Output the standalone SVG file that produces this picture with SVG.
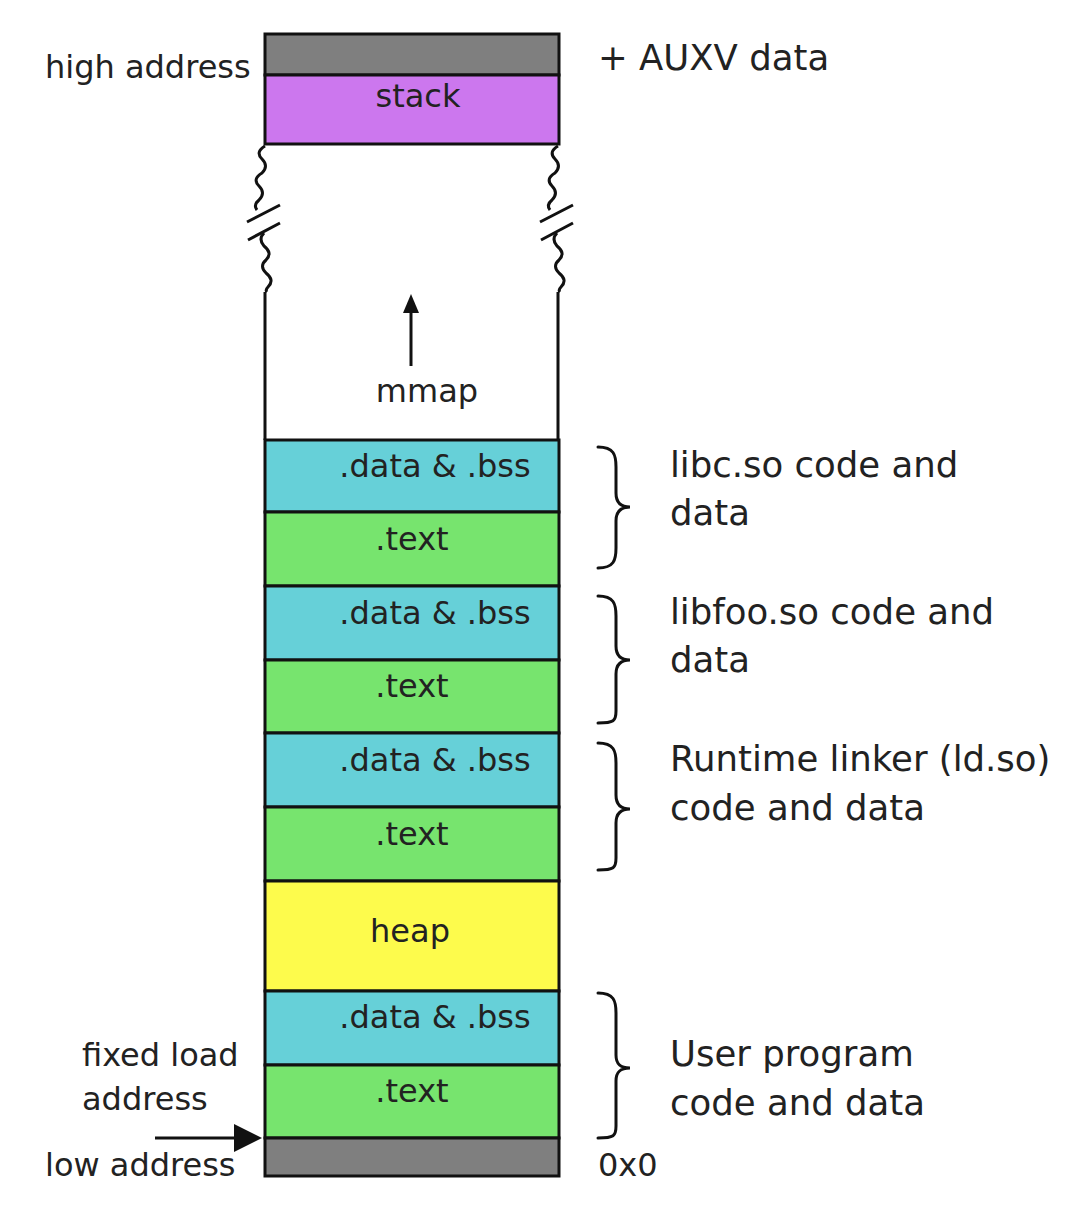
<svg xmlns="http://www.w3.org/2000/svg" width="1082" height="1218" viewBox="0 0 1082 1218">
<style>
.blk{stroke:#111;stroke-width:3}
.gray{fill:#7f7f7f}
.stack{fill:#cc77ee}
.cyan{fill:#66d0d8}
.green{fill:#77e46e}
.yellow{fill:#fdfb4c}
.t{font-family:"DejaVu Sans",Verdana,sans-serif;font-size:32px;fill:#222}
.r{font-family:"DejaVu Sans",Verdana,sans-serif;font-size:35.5px;fill:#222}
.c{text-anchor:middle}
.ln{fill:none;stroke:#111;stroke-width:3}
.brace{fill:none;stroke:#111;stroke-width:3;stroke-linecap:round}
</style>
<rect width="1082" height="1218" fill="#fff"/>
<g id="top-gray"><rect class="blk gray" x="265" y="34" width="294" height="41"/></g>
<g id="stack"><rect class="blk stack" x="265" y="75" width="294" height="69"/><text class="t c" x="418" y="107">stack</text></g>
<g id="gap">
<path class="ln" d="M265,146 q-10,6 -3,13 q7,7 0,14 q-10,6 -3,13 q7,7 0,14 q-6,5 -2,10"/>
<path class="ln" d="M247,222 L280,205 M248,240 L280,223"/>
<path class="ln" d="M264,233 q-6,6 0,13 q9,7 2,14 q-7,6 0,13 q9,7 2,14 q-3,3 -1,5"/>
<path class="ln" d="M558,146 q-10,6 -3,13 q7,7 0,14 q-10,6 -3,13 q7,7 0,14 q-6,5 -2,10"/>
<path class="ln" d="M540,222 L573,205 M541,240 L573,223"/>
<path class="ln" d="M557,233 q-6,6 0,13 q9,7 2,14 q-7,6 0,13 q9,7 2,14 q-3,3 -1,5"/>
<path class="ln" d="M265,292 L265,440 M558,292 L558,440"/>
</g>
<g id="mmap">
<line class="ln" x1="411" y1="366" x2="411" y2="308"/>
<polygon points="411,294 403,313 419,313" fill="#111"/>
<text class="t c" x="427" y="402">mmap</text>
</g>
<g id="libc-data"><rect class="blk cyan" x="265" y="440" width="294" height="72"/><text class="t c" x="435" y="477">.data &amp; .bss</text></g>
<g id="libc-text"><rect class="blk green" x="265" y="512" width="294" height="74"/><text class="t c" x="412" y="550">.text</text></g>
<g id="libfoo-data"><rect class="blk cyan" x="265" y="586" width="294" height="74"/><text class="t c" x="435" y="624">.data &amp; .bss</text></g>
<g id="libfoo-text"><rect class="blk green" x="265" y="660" width="294" height="73"/><text class="t c" x="412" y="697">.text</text></g>
<g id="ld-data"><rect class="blk cyan" x="265" y="733" width="294" height="74"/><text class="t c" x="435" y="771">.data &amp; .bss</text></g>
<g id="ld-text"><rect class="blk green" x="265" y="807" width="294" height="74"/><text class="t c" x="412" y="845">.text</text></g>
<g id="heap"><rect class="blk yellow" x="265" y="881" width="294" height="110"/><text class="t c" x="410" y="942">heap</text></g>
<g id="user-data"><rect class="blk cyan" x="265" y="991" width="294" height="74"/><text class="t c" x="435" y="1028">.data &amp; .bss</text></g>
<g id="user-text"><rect class="blk green" x="265" y="1065" width="294" height="73"/><text class="t c" x="412" y="1102">.text</text></g>
<g id="bottom-gray"><rect class="blk gray" x="265" y="1138" width="294" height="38"/></g>
<g id="braces">
<path class="brace" d="M598,447 C614,447 616,455 616,467 L616,493 C616,502 620,507 630,507 C620,507 616,512 616,521 L616,548 C616,560 614,568 598,568"/>
<path class="brace" d="M598,596 C614,596 616,604 616,616 L616,646 C616,655 620,660 630,660 C620,660 616,665 616,674 L616,711 C616,721 614,723 598,723"/>
<path class="brace" d="M598,743 C614,743 616,751 616,763 L616,795 C616,804 620,809 630,809 C620,809 616,814 616,823 L616,858 C616,868 614,870 598,870"/>
<path class="brace" d="M598,993 C614,993 616,1001 616,1013 L616,1055 C616,1064 620,1068 630,1068 C620,1068 616,1072 616,1081 L616,1126 C616,1136 614,1138 598,1138"/>
</g>
<g id="labels">
<text class="t" x="45" y="78">high address</text>
<text class="r" x="598" y="70">+ AUXV data</text>
<text class="r" x="670" y="477">libc.so code and</text>
<text class="r" x="670" y="525">data</text>
<text class="r" x="670" y="624">libfoo.so code and</text>
<text class="r" x="670" y="672">data</text>
<text class="r" x="670" y="771">Runtime linker (ld.so)</text>
<text class="r" x="670" y="820">code and data</text>
<text class="r" x="670" y="1066">User program</text>
<text class="r" x="670" y="1115">code and data</text>
<text class="t" x="82" y="1066">fixed load</text>
<text class="t" x="82" y="1110">address</text>
<text class="t" x="45" y="1176">low address</text>
<text class="t" x="598" y="1176">0x0</text>
</g>
<g id="connectors">
<line class="ln" x1="155" y1="1138" x2="240" y2="1138" stroke-width="4"/>
<polygon points="262,1138 234,1124 234,1152" fill="#111"/>
</g>
</svg>
